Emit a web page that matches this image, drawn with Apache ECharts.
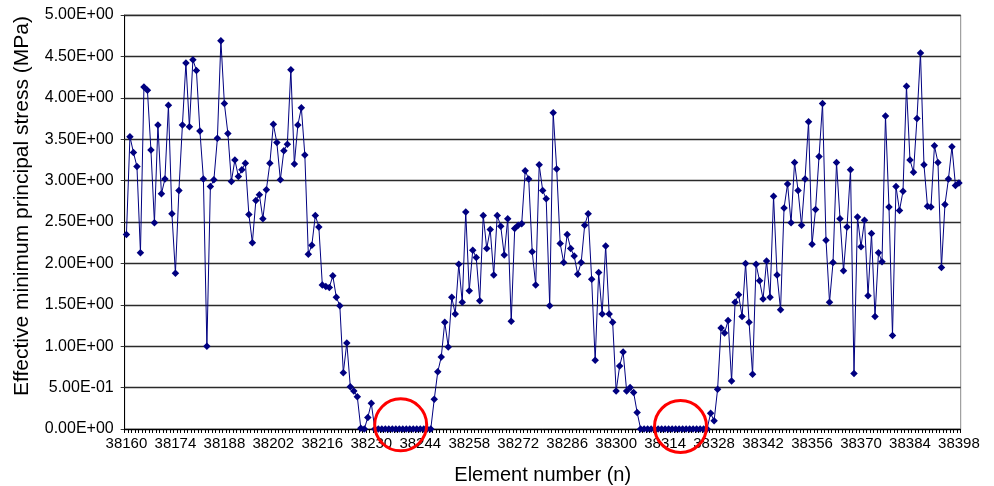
<!DOCTYPE html>
<html>
<head>
<meta charset="utf-8">
<script src="https://cdn.jsdelivr.net/npm/echarts@6/dist/echarts.min.js"></script>
<style>
html,body{margin:0;padding:0;background:#fff;}
#chart{width:994px;height:486px;}
</style>
</head>
<body>
<div id="chart"></div>
<script>
// ---- data ----
const firstElement = 38160;
const lastElement = 38398;
const stress = [
  2.35, 3.53, 3.34, 3.17, 2.13, 4.13, 4.09, 3.37, 2.49, 3.67,
  2.84, 3.02, 3.91, 2.60, 1.88, 2.88, 3.67, 4.42, 3.65, 4.46,
  4.33, 3.60, 3.02, 1.00, 2.93, 3.01, 3.51, 4.69, 3.93, 3.57,
  2.99, 3.25, 3.05, 3.13, 3.21, 2.59, 2.25, 2.76, 2.83, 2.54,
  2.89, 3.21, 3.68, 3.46, 3.01, 3.36, 3.44, 4.34, 3.20, 3.67,
  3.88, 3.31, 2.11, 2.22, 2.58, 2.44, 1.74, 1.72, 1.71, 1.85,
  1.59, 1.49, 0.68, 1.04, 0.51, 0.46, 0.39, 0.01, 0.00, 0.14,
  0.31, 0, 0, 0, 0, 0, 0, 0, 0, 0,
  0, 0, 0, 0, 0, 0, 0, 0, 0.36, 0.69,
  0.87, 1.29, 0.99, 1.59, 1.39, 1.99, 1.53, 2.62, 1.67, 2.16,
  2.07, 1.55, 2.58, 2.18, 2.41, 1.86, 2.58, 2.45, 2.10, 2.54,
  1.30, 2.42, 2.46, 2.48, 3.12, 3.02, 2.14, 1.74, 3.19, 2.88,
  2.78, 1.49, 3.82, 3.14, 2.24, 2.01, 2.35, 2.18, 2.09, 1.87,
  2.01, 2.46, 2.60, 1.81, 0.83, 1.89, 1.39, 2.21, 1.39, 1.29,
  0.46, 0.76, 0.93, 0.46, 0.50, 0.44, 0.20, 0, 0, 0,
  0, 0, 0, 0, 0, 0, 0, 0, 0, 0,
  0, 0, 0, 0, 0, 0, 0, 0.19, 0.10, 0.48,
  1.22, 1.16, 1.31, 0.58, 1.53, 1.62, 1.36, 2.00, 1.29, 0.66,
  1.99, 1.79, 1.57, 2.03, 1.59, 2.81, 1.86, 1.44, 2.67, 2.96,
  2.49, 3.22, 2.88, 2.46, 3.02, 3.71, 2.23, 2.65, 3.29, 3.93,
  2.28, 1.53, 2.01, 3.22, 2.54, 1.91, 2.44, 3.13, 0.67, 2.56,
  2.20, 2.52, 1.61, 2.36, 1.36, 2.13, 2.02, 3.78, 2.68, 1.13,
  2.93, 2.64, 2.87, 4.14, 3.25, 3.10, 3.75, 4.54, 3.19, 2.69,
  2.68, 3.42, 3.22, 1.95, 2.71, 3.02, 3.41, 2.94, 2.97
];
const elements = [];
for (let n = firstElement; n <= lastElement; n++) elements.push(String(n));

const yMin = 0, yMax = 5, yStep = 0.5;
const labelEvery = 14;
const xTitle = 'Element number (n)';
const yTitle = 'Effective minimum principal stress (MPa)';
// highlighted zones (element number, value) for the red circles
const circleCentres = [[38238.4, 0.05], [38318.4, 0.03]];

function sci(v) {
  if (v === 0) return '0.00E+00';
  const parts = v.toExponential(2).split('e');
  const e = parseInt(parts[1], 10);
  return parts[0] + 'E' + (e < 0 ? '-' : '+') + String(Math.abs(e)).padStart(2, '0');
}

const FONT = '"Liberation Sans", Arial, sans-serif';
const chart = echarts.init(document.getElementById('chart'), null, {renderer: 'canvas'});

chart.setOption({
  animation: false,
  backgroundColor: '#ffffff',
  grid: {
    left: 124.7, right: 33.3, top: 15, bottom: 57,
    containLabel: false, outerBoundsMode: 'none',
    show: true, borderColor: '#8c8c8c', borderWidth: 1, backgroundColor: '#ffffff'
  },
  xAxis: {
    type: 'category',
    data: elements,
    boundaryGap: true,
    axisLine: {show: true, onZero: false, lineStyle: {color: '#000', width: 1}},
    axisTick: {show: true, interval: 0, length: 4, lineStyle: {color: '#000', width: 1}},
    axisLabel: {
      interval: labelEvery - 1, margin: 7, color: '#000',
      fontFamily: FONT, fontSize: 15, hideOverlap: false
    },
    splitLine: {show: false},
    name: xTitle, nameLocation: 'middle', nameGap: 36,
    nameTextStyle: {fontFamily: FONT, fontSize: 20, color: '#000'}
  },
  yAxis: {
    type: 'value',
    min: yMin, max: yMax, interval: yStep,
    axisLine: {show: true, lineStyle: {color: '#000', width: 1}},
    axisTick: {show: true, length: 4, lineStyle: {color: '#333'}},
    axisLabel: {
      formatter: sci, margin: 11, color: '#000',
      fontFamily: FONT, fontSize: 16
    },
    splitLine: {show: true, lineStyle: {color: '#2a2a2a', width: 1.3}}
  },
  series: [{
    type: 'line',
    data: stress,
    symbol: 'diamond',
    symbolSize: 7.5,
    showAllSymbol: true,
    lineStyle: {color: '#000080', width: 1},
    itemStyle: {color: '#000080', borderWidth: 0},
    z: 3
  }]
});

function placeExtras() {
  const els = [];
  circleCentres.forEach(function (c) {
    const idx = c[0] - firstElement;
    const i0 = Math.floor(idx), f = idx - i0;
    const p0 = chart.convertToPixel({xAxisIndex: 0, yAxisIndex: 0}, [i0, c[1]]);
    const p1 = chart.convertToPixel({xAxisIndex: 0, yAxisIndex: 0}, [i0 + 1, c[1]]);
    const cx = p0[0] + (p1[0] - p0[0]) * f;
    els.push({
      type: 'circle', z: 100,
      shape: {cx: cx, cy: p0[1], r: 26},
      style: {fill: 'none', stroke: '#ff0000', lineWidth: 3}
    });
  });
  const top = chart.convertToPixel({yAxisIndex: 0}, yMax);
  const bot = chart.convertToPixel({yAxisIndex: 0}, yMin);
  els.push({
    type: 'text', z: 100,
    x: 22, y: (top + bot) / 2 - 16,
    rotation: Math.PI / 2,
    style: {
      text: yTitle, fill: '#000', font: '21px ' + FONT,
      align: 'center', verticalAlign: 'middle'
    }
  });
  chart.setOption({graphic: {elements: els}});
}
placeExtras();
</script>
</body>
</html>
